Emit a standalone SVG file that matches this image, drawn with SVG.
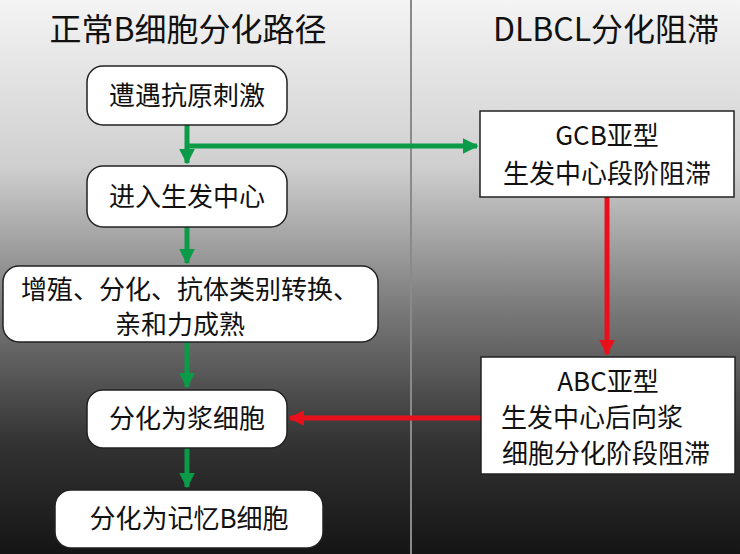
<svg xmlns="http://www.w3.org/2000/svg" width="740" height="554" viewBox="0 0 740 554">
<defs>
<linearGradient id="bg" x1="0" y1="0" x2="0" y2="1">
<stop offset="0" stop-color="#f4f4f4"/><stop offset="0.3" stop-color="#cfcfcf"/><stop offset="0.55" stop-color="#7c7c7c"/><stop offset="0.8" stop-color="#333"/><stop offset="1" stop-color="#151515"/>
</linearGradient>
<marker id="ag" viewBox="0 0 10 10" refX="9" refY="5" markerWidth="3.2" markerHeight="3.2" orient="auto" markerUnits="strokeWidth"><path d="M0,0L10,5L0,10z" fill="#0a9a48"/></marker>
<marker id="ar" viewBox="0 0 10 10" refX="9" refY="5" markerWidth="3.2" markerHeight="3.2" orient="auto" markerUnits="strokeWidth"><path d="M0,0L10,5L0,10z" fill="#e8101a"/></marker>
<style>
.t{font-family:"Noto Sans CJK SC","Liberation Sans",sans-serif;fill:#111;text-anchor:middle;font-size:26px}
.h{font-size:32px}
.n{fill:#fff;stroke:#222;stroke-width:1.5}
.g{stroke:#0a9a48;stroke-width:5;fill:none}
.r{stroke:#e8101a;stroke-width:5;fill:none}
</style>
</defs>
<rect width="740" height="554" fill="url(#bg)"/>
<line x1="411" y1="0" x2="411" y2="554" stroke="#8a8a8a" stroke-width="2"/>
<text class="t h" x="188" y="41">正常B细胞分化路径</text>
<text class="t h" x="606" y="41">DLBCL分化阻滞</text>
<g id="connectors">
<path class="g" d="M187,125V163" marker-end="url(#ag)"/>
<path class="g" d="M187,146H477" marker-end="url(#ag)"/>
<path class="g" d="M187,227V263" marker-end="url(#ag)"/>
<path class="g" d="M187,342V387" marker-end="url(#ag)"/>
<path class="g" d="M187,448V487" marker-end="url(#ag)"/>
<path class="r" d="M607,197V354" marker-end="url(#ar)"/>
<path class="r" d="M482,418H290" marker-end="url(#ar)"/>
</g>
<g id="n1"><rect class="n" x="87" y="66" width="200" height="59" rx="16"/><text class="t" x="187" y="105">遭遇抗原刺激</text></g>
<g id="n2"><rect class="n" x="87" y="166" width="200" height="61" rx="16"/><text class="t" x="187" y="206">进入生发中心</text></g>
<g id="n3"><rect class="n" x="3" y="266" width="375" height="76" rx="16"/><text class="t" x="190" y="299">增殖、分化、抗体类别转换、</text><text class="t" x="180" y="334">亲和力成熟</text></g>
<g id="n4"><rect class="n" x="87" y="390" width="200" height="58" rx="16"/><text class="t" x="187" y="428">分化为浆细胞</text></g>
<g id="n5"><rect class="n" x="55" y="490" width="268" height="58" rx="16"/><text class="t" x="189" y="528">分化为记忆B细胞</text></g>
<g id="gcb"><rect class="n" x="480" y="111" width="254" height="86"/><text class="t" x="607" y="145">GCB亚型</text><text class="t" x="607" y="183">生发中心段阶阻滞</text></g>
<g id="abc"><rect class="n" x="481" y="357" width="254" height="117"/><text class="t" x="608" y="391">ABC亚型</text><text class="t" x="501" y="427" style="text-anchor:start">生发中心后向浆</text><text class="t" x="502" y="463" style="text-anchor:start">细胞分化阶段阻滞</text></g>
</svg>
